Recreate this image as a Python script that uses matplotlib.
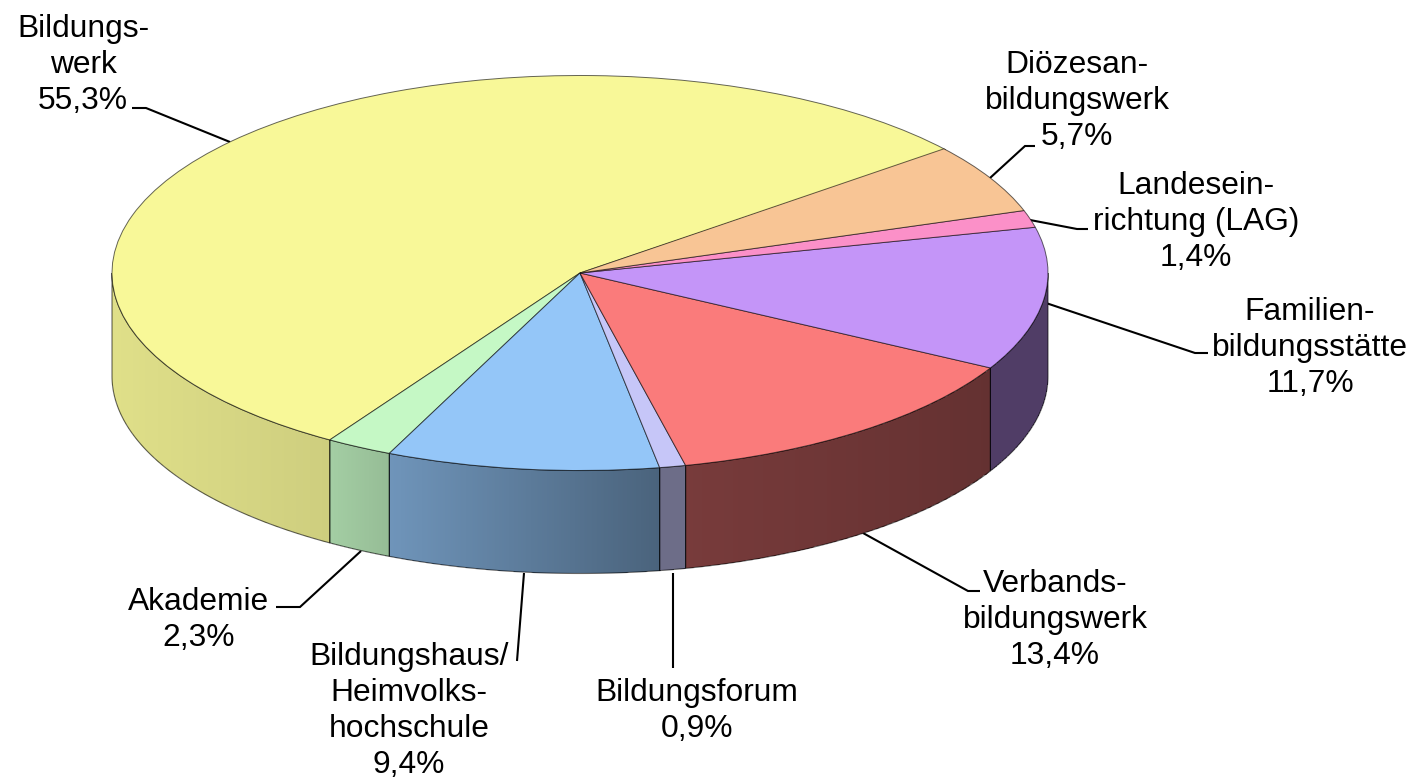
import numpy as np
import matplotlib
matplotlib.use("Agg")
import matplotlib.pyplot as plt
from matplotlib.patches import Wedge, Polygon
from matplotlib.transforms import Affine2D

plt.rcParams['font.family'] = ['Liberation Sans', 'DejaVu Sans']

# data, counter-clockwise from the start angle
names = ["Bildungs-\nwerk", "Akademie", "Bildungshaus/\nHeimvolks-\nhochschule", "Bildungsforum",
         "Verbands-\nbildungswerk", "Familien-\nbildungsstätte", "Landesein-\nrichtung (LAG)",
         "Diözesan-\nbildungswerk"]
shares = [55.3, 2.3, 9.4, 0.9, 13.4, 11.7, 1.4, 5.7]
colors = ["#F8F898", "#C5F8C5", "#94C6F8", "#C6C6F8", "#FA7B7B", "#C495F8", "#FB90C8", "#F8C595"]
label_xy = [(83, 65), (199, 620), (409, 711), (697, 711), (1055, 620), (1310, 348), (1196, 222), (1077, 101)]
leaders = [
    [(132, 108), (146, 108), (230, 142)],
    [(361, 551), (300, 607), (276, 607)],
    [(524, 573), (517, 661)],
    [(673, 573), (673, 668)],
    [(863, 533), (968, 591), (980, 591)],
    [(1043, 302), (1195, 353), (1208, 353)],
    [(1030, 220), (1077, 229), (1088, 229)],
    [(990, 178), (1025, 146), (1035, 146)],
]
# wall shading: brightness at the left and right end of each front-facing slice
wall_shade = [(0.90, 0.83), (0.83, 0.76), (0.75, 0.50), (0.55, 0.55),
              (0.48, 0.40), (0.41, 0.41), (1, 1), (1, 1)]

start_angle = 38.6
cx, cy, rx, ry, depth = 580, 273, 468, 197.5, 103

fig = plt.figure(figsize=(14.19, 7.81), dpi=100)
ax = fig.add_axes([0, 0, 1, 1])
ax.set_xlim(0, 1419)
ax.set_ylim(781, 0)
ax.axis("off")

edges = start_angle + np.concatenate([[0], np.cumsum(shares)]) * 3.6
unit = Affine2D().scale(rx, -ry).translate(cx, cy) + ax.transData

# leader lines sit behind the pie
for pts in leaders:
    xs, ys = zip(*pts)
    ax.plot(xs, ys, color="black", lw=1.5, solid_capstyle="butt", solid_joinstyle="miter", zorder=1)

# side walls
for t0, t1, col, (s0, s1) in zip(edges[:-1], edges[1:], colors, wall_shade):
    a = max(t0, 180)
    b = min(t1, 360)
    if a >= b:
        continue
    th = np.radians(np.linspace(a, b, 160))
    x = cx + rx * np.cos(th)
    top = cy - ry * np.sin(th)
    X = np.vstack([x, x])
    Y = np.vstack([top, top + depth])
    f = s0 + (s1 - s0) * (0.5 * (x[:-1] + x[1:]) - x[0]) / (x[-1] - x[0])
    rgb = np.array(matplotlib.colors.to_rgb(col))
    C = np.clip(f[None, :, None] * rgb[None, None, :], 0, 1)
    ax.pcolormesh(X, Y, C, shading="flat", antialiased=True, linewidth=0, rasterized=False, zorder=2)
    outline = np.column_stack([np.r_[x, x[::-1]], np.r_[top, (top + depth)[::-1]]])
    ax.add_patch(Polygon(outline, closed=True, fill=False, ec=(0, 0, 0, 0.6), lw=0.8, zorder=3))

# top face
for t0, t1, col in zip(edges[:-1], edges[1:], colors):
    ax.add_patch(Wedge((0, 0), 1, t0, t1, fc=col, ec=(0, 0, 0, 0.6), lw=0.7,
                       transform=unit, zorder=4))

# labels
for name, val, (lx, ly) in zip(names, shares, label_xy):
    ax.text(lx, ly, f"{name}\n{val:.1f}%".replace(".", ","), ha="center", va="center",
            fontsize=22.9, color="black", linespacing=1.26, zorder=5)

fig.savefig("out.png", dpi=100)
